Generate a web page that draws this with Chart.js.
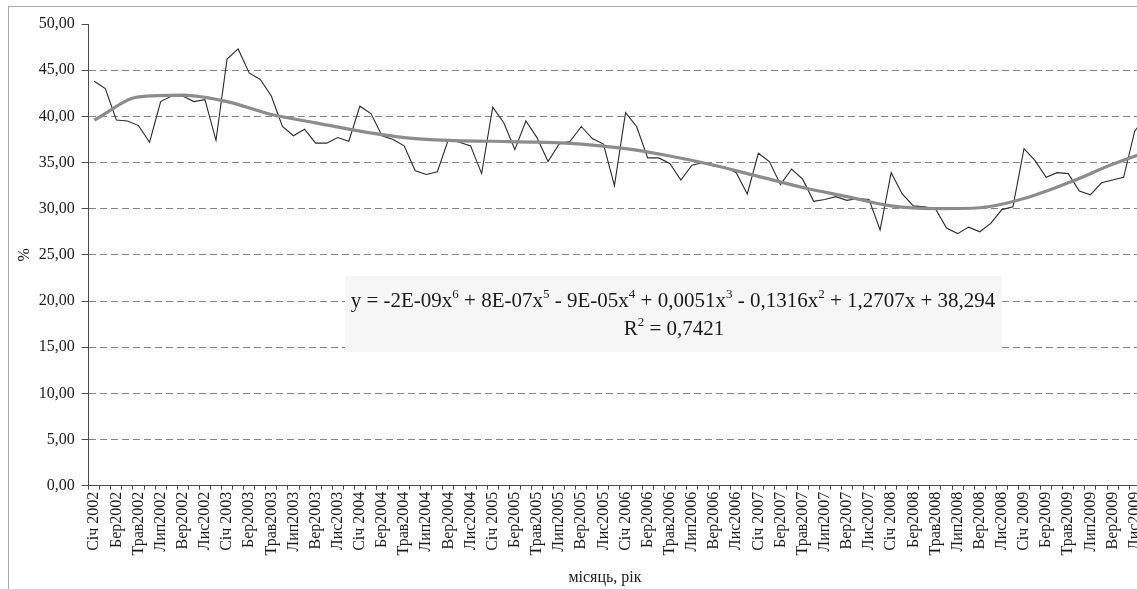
<!DOCTYPE html>
<html><head><meta charset="utf-8">
<script src="https://cdn.jsdelivr.net/npm/chart.js@4.4.1/dist/chart.umd.min.js"></script>
<style>
html,body{margin:0;padding:0;background:#fff;overflow:hidden;width:1137px;height:589px;}
#frame{position:absolute;left:8px;top:6px;width:1300px;height:800px;border-left:1px solid #a8a8a8;border-top:1px solid #a8a8a8;}
#wrap{position:absolute;left:0;top:0;width:1167px;height:589px;}
</style></head><body>
<div id="frame"></div>
<div id="wrap"><canvas id="c"></canvas></div>
<script>
const years = [2002, 2003, 2004, 2005, 2006, 2007, 2008, 2009];
const monthNames = ['Січ ', 'Лют', 'Бер', 'Квіт', 'Трав', 'Черв', 'Лип', 'Серп', 'Вер', 'Жовт', 'Лис', 'Груд'];
const categories = [];
years.forEach(y => monthNames.forEach(m => categories.push(m + y)));

// monthly share, %
const share = [
  43.8, 43.0, 39.6, 39.5, 39.0, 37.2, 41.6, 42.2, 42.2, 41.6, 41.8, 37.4,
  46.2, 47.3, 44.7, 44.0, 42.2, 38.9, 37.9, 38.6, 37.1, 37.1, 37.7, 37.3,
  41.1, 40.3, 37.9, 37.5, 36.8, 34.1, 33.7, 34.0, 37.5, 37.2, 36.8, 33.8,
  41.0, 39.3, 36.4, 39.5, 37.7, 35.1, 37.0, 37.3, 38.9, 37.6, 37.0, 32.5,
  40.4, 38.9, 35.5, 35.5, 34.9, 33.1, 34.7, 35.0, 34.6, 34.5, 33.9, 31.6,
  36.0, 35.1, 32.6, 34.3, 33.2, 30.8, 31.0, 31.3, 30.9, 31.1, 31.0, 27.7,
  33.9, 31.6, 30.3, 30.2, 30.0, 27.9, 27.3, 28.0, 27.5, 28.4, 29.9, 30.2,
  36.5, 35.2, 33.4, 33.9, 33.8, 31.9, 31.5, 32.8, 33.1, 33.4, 38.4, 40.0
];

// polynomial trend line, every 4 months
const trend = [
  39.6, null, null, null, 42.1, null, null, null, 42.3, null, null, null,
  41.6, null, null, null, 40.2, null, null, null, 39.3, null, null, null,
  38.4, null, null, null, 37.7, null, null, null, 37.4, null, null, null,
  37.3, null, null, null, 37.2, null, null, null, 37.0, null, null, null,
  36.5, null, null, null, 35.7, null, null, null, 34.7, null, null, null,
  33.5, null, null, null, 32.3, null, null, null, 31.3, null, null, null,
  30.3, null, null, null, 30.0, null, null, null, 30.1, null, null, null,
  31.1, null, null, null, 32.8, null, null, null, 34.8, null, null, 36.1
];

const yTicks = [0, 5, 10, 15, 20, 25, 30, 35, 40, 45, 50];
const eqLine1 = [['y = -2E-09x', 0], ['6', 1], [' + 8E-07x', 0], ['5', 1], [' - 9E-05x', 0], ['4', 1],
  [' + 0,0051x', 0], ['3', 1], [' - 0,1316x', 0], ['2', 1], [' + 1,2707x + 38,294', 0]];
const eqLine2 = [['R', 0], ['2', 1], [' = 0,7421', 0]];
const xTitle = 'місяць, рік';
const yTitle = '%';

const SERIF = '"Liberation Serif", "Times New Roman", serif';
const txtColor = '#1a1a1a';

function drawParts(ctx, parts, cx, baseY, fs) {
  const sfs = fs * 0.62;
  let total = 0;
  const widths = parts.map(([t, s]) => {
    ctx.font = (s ? sfs : fs) + 'px ' + SERIF;
    const w = ctx.measureText(t).width;
    total += w; return w;
  });
  let x = cx - total / 2;
  parts.forEach(([t, s], i) => {
    ctx.font = (s ? sfs : fs) + 'px ' + SERIF;
    ctx.fillText(t, x, s ? baseY - fs * 0.42 : baseY);
    x += widths[i];
  });
  return total;
}

const extras = {
  id: 'extras',
  afterDraw(chart) {
    const ctx = chart.ctx;
    ctx.save();
    // equation box
    ctx.fillStyle = '#f6f6f6';
    ctx.fillRect(345, 276, 657, 76);
    ctx.fillStyle = txtColor;
    ctx.textAlign = 'left';
    ctx.textBaseline = 'alphabetic';
    let fs = 16;
    ctx.globalAlpha = 0;
    const w = drawParts(ctx, eqLine1, 673, 307, fs);
    ctx.globalAlpha = 1;
    fs = fs * 645 / w;
    drawParts(ctx, eqLine1, 673, 307, fs);
    drawParts(ctx, eqLine2, 674, 335, fs);
    // x axis title
    ctx.font = '16px ' + SERIF;
    ctx.textAlign = 'center';
    ctx.fillText(xTitle, 605, 582);
    ctx.restore();
  }
};

new Chart(document.getElementById('c'), {
  type: 'line',
  data: {
    labels: categories,
    datasets: [
      {
        label: 'Тренд', data: trend, borderColor: '#8c8c8c', borderWidth: 3.2,
        pointRadius: 0, spanGaps: true, cubicInterpolationMode: 'monotone', fill: false
      },
      {
        label: 'Частка', data: share, borderColor: '#2a2a2a', borderWidth: 1.1,
        pointRadius: 0, tension: 0, fill: false
      }
    ]
  },
  options: {
    responsive: true, maintainAspectRatio: false, animation: false,
    layout: { padding: { left: 0, top: 24, right: 8.6, bottom: 0 } },
    plugins: { legend: { display: false }, tooltip: { enabled: false }, title: { display: false } },
    scales: {
      x: {
        type: 'category', offset: true,
        afterFit: s => { s.height = 103.3; },
        grid: { display: true, drawOnChartArea: false, offset: true, tickLength: 4, tickColor: '#4a4a4a', tickWidth: 1 },
        border: { display: true, color: '#4a4a4a', width: 1 },
        ticks: {
          autoSkip: false, maxRotation: 90, minRotation: 90, padding: 2,
          color: txtColor, font: { family: SERIF, size: 16 },
          callback: function (v, i) { return i % 2 === 0 ? categories[i] : ''; }
        }
      },
      y: {
        min: 0, max: 50,
        afterFit: s => { s.width = 88.7; },
        afterBuildTicks: s => { s.ticks = yTicks.map(v => ({ value: v })); },
        grid: {
          color: c => (c.tick && (c.tick.value === 0 || c.tick.value === 50)) ? 'rgba(0,0,0,0)' : '#858585',
          lineWidth: 1, tickLength: 7, tickColor: '#4a4a4a', tickBorderDash: []
        },
        border: { display: true, color: '#4a4a4a', width: 1, dash: [7, 4] },
        ticks: {
          padding: 7, color: txtColor, font: { family: SERIF, size: 16 },
          callback: v => Number(v).toFixed(2).replace('.', ',')
        },
        title: { display: true, text: yTitle, color: txtColor, font: { family: SERIF, size: 16 }, padding: { top: 15, bottom: 0 } }
      }
    }
  },
  plugins: [extras]
});
</script>
</body></html>
